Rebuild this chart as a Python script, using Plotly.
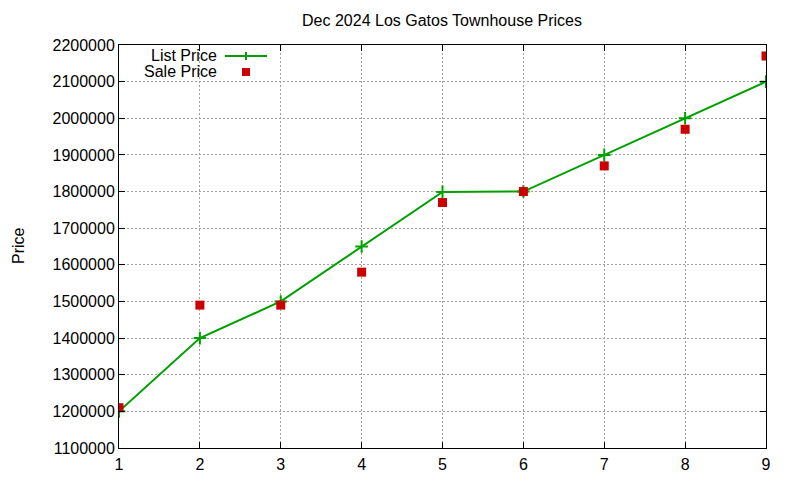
import plotly.graph_objects as go

units = [1, 2, 3, 4, 5, 6, 7, 8, 9]
list_price = [1200000, 1400000, 1500000, 1650000, 1799000, 1800000, 1900000, 2000000, 2100000]
sale_price = [1210000, 1490000, 1490000, 1580000, 1770000, 1800000, 1870000, 1970000, 2170000]
y_ticks = list(range(1100000, 2200001, 100000))
x_ticks = units

GREEN = "#00a000"
RED = "#cc0000"
FONT = "Liberation Sans, Arial, sans-serif"

# page body has an 8px margin; work in absolute page pixels
OFF = 8
W, H = 784, 464
PL, PR, PT, PB = 119, 766, 45, 448  # plot area in page pixels
L, T = PL - OFF, PT - OFF
R = W - (PR - OFF)
B = H - (PB - OFF)
pw, ph = W - L - R, H - T - B

def px(x):
    return (x - PL) / pw

def py(y):
    return (PB - y) / ph

fig = go.Figure()
fig.add_trace(go.Scatter(
    x=units, y=list_price, mode="lines+markers", name="List Price",
    line=dict(color=GREEN, width=2),
    marker=dict(symbol="cross-thin", size=9, line=dict(color=GREEN, width=2), color=GREEN),
))
fig.add_trace(go.Scatter(
    x=units, y=sale_price, mode="markers", name="Sale Price",
    marker=dict(symbol="square", size=9, color=RED),
))

axis_common = dict(
    showline=True, linecolor="black", linewidth=1, mirror="ticks",
    ticks="inside", ticklen=6, tickcolor="black", tickwidth=1,
    showgrid=True, gridcolor="#a0a0a0", griddash="2px,2px", gridwidth=1,
    zeroline=False, automargin=False,
    tickfont=dict(family=FONT, size=16, color="black"),
)

fig.update_xaxes(range=[1, 9], tickvals=x_ticks, ticklabelstandoff=2, **axis_common)
fig.update_yaxes(range=[1100000, 2200000], tickvals=y_ticks, tickformat="d", **axis_common)

# custom gnuplot-style legend (text then sample)
legend_items = [("List Price", 55), ("Sale Price", 71)]
for label, yy in legend_items:
    fig.add_annotation(text=label, xref="paper", yref="paper", x=px(219), y=py(yy),
                       xanchor="right", yanchor="middle", showarrow=False,
                       font=dict(family=FONT, size=16, color="black"))
fig.add_shape(type="line", xref="paper", yref="paper", x0=px(225), x1=px(267), y0=py(56), y1=py(56),
              line=dict(color=GREEN, width=2))
fig.add_shape(type="line", xref="paper", yref="paper", x0=px(246), x1=px(246), y0=py(52), y1=py(60),
              line=dict(color=GREEN, width=2))
fig.add_shape(type="rect", xref="paper", yref="paper", x0=px(242), x1=px(250), y0=py(68), y1=py(76),
              line=dict(color=RED, width=0), fillcolor=RED)

fig.add_annotation(text="Price", xref="paper", yref="paper", x=px(18), y=py(246),
                   textangle=-90, showarrow=False, xanchor="center", yanchor="middle",
                   font=dict(family=FONT, size=16, color="black"))

fig.update_layout(
    width=W, height=H,
    margin=dict(l=L, r=R, t=T, b=B, autoexpand=False),
    paper_bgcolor="white", plot_bgcolor="white",
    showlegend=False,
    title=dict(text="Dec 2024 Los Gatos Townhouse Prices", xref="paper", x=px(442), xanchor="center",
               yref="container", y=1 - (20 - OFF) / H, yanchor="middle",
               font=dict(family=FONT, size=16, color="black")),
)

fig.write_html("out.html")
